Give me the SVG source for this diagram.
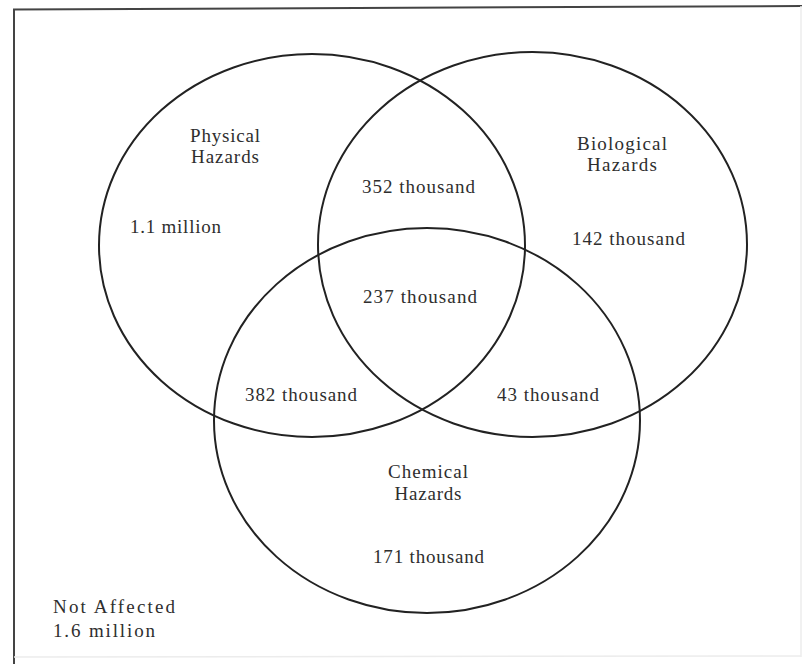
<svg xmlns="http://www.w3.org/2000/svg" width="802" height="664" viewBox="0 0 802 664">
<style>
.frame{fill:none;stroke:#444;stroke-width:2}
.faint{fill:none;stroke:#ececec;stroke-width:1.5}
.set{fill:none;stroke:#222;stroke-width:2}
text{font-family:"Liberation Serif","Times New Roman",serif;font-size:19px;fill:#2e2e2e}
.c{text-anchor:middle}
</style>
<rect width="802" height="664" fill="#fff"/>
<g id="frame">
<path class="frame" d="M13,9.5 L802,6"/>
<path class="frame" d="M14,9 L14,664"/>
<path class="faint" d="M801,6 L801,657"/>
<path class="faint" d="M14,657 L801,656"/>
</g>
<g id="physical">
<ellipse class="set" cx="312" cy="245.5" rx="213" ry="191.5"/>
<text class="c" x="225" y="142" textLength="70" lengthAdjust="spacing">Physical</text>
<text class="c" x="225" y="163" textLength="68" lengthAdjust="spacing">Hazards</text>
<text x="130" y="233" textLength="91" lengthAdjust="spacing">1.1 million</text>
</g>
<g id="biological">
<ellipse class="set" cx="532.5" cy="244.5" rx="214.5" ry="192.5"/>
<text class="c" x="622" y="150" textLength="90" lengthAdjust="spacing">Biological</text>
<text class="c" x="622" y="171" textLength="70" lengthAdjust="spacing">Hazards</text>
<text x="572" y="245" textLength="113" lengthAdjust="spacing">142 thousand</text>
</g>
<g id="chemical">
<ellipse class="set" cx="427" cy="420.5" rx="213" ry="192.5"/>
<text class="c" x="428" y="478" textLength="80" lengthAdjust="spacing">Chemical</text>
<text class="c" x="428" y="500" textLength="67" lengthAdjust="spacing">Hazards</text>
<text x="373" y="563" textLength="111" lengthAdjust="spacing">171 thousand</text>
</g>
<g id="overlaps">
<text x="362" y="193" textLength="113" lengthAdjust="spacing">352 thousand</text>
<text x="363" y="303" textLength="114" lengthAdjust="spacing">237 thousand</text>
<text x="245" y="401" textLength="112" lengthAdjust="spacing">382 thousand</text>
<text x="497" y="401" textLength="102" lengthAdjust="spacing">43 thousand</text>
</g>
<g id="not-affected">
<text x="53" y="613" textLength="122" lengthAdjust="spacing">Not Affected</text>
<text x="53" y="637" textLength="102" lengthAdjust="spacing">1.6 million</text>
</g>
<g id="connectors"></g>
</svg>
